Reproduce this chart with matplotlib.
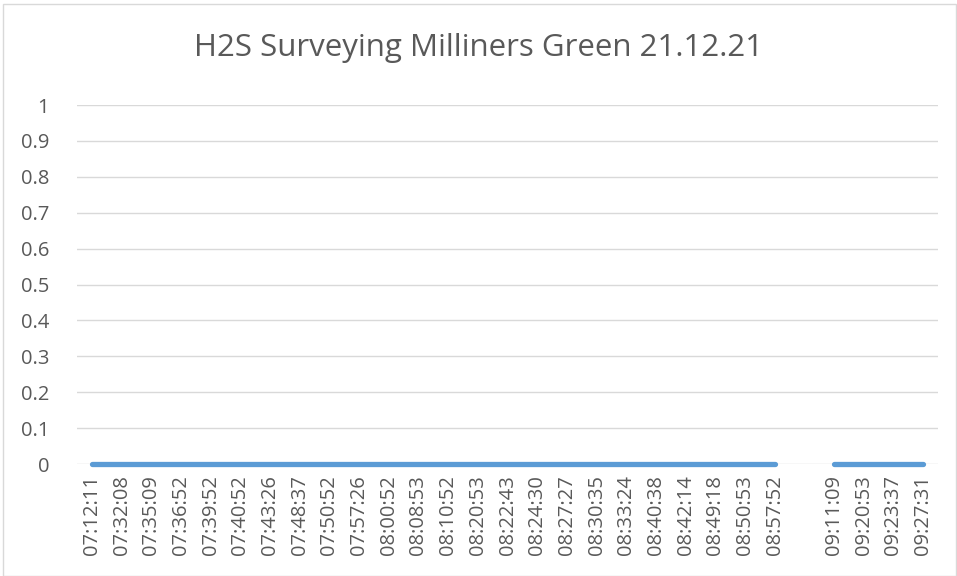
import numpy as np
import matplotlib.pyplot as plt
from matplotlib.patches import Rectangle

times = ["07:12:11", "07:32:08", "07:35:09", "07:36:52", "07:39:52", "07:40:52",
         "07:43:26", "07:48:37", "07:50:52", "07:57:26", "08:00:52", "08:08:53",
         "08:10:52", "08:20:53", "08:22:43", "08:24:30", "08:27:27", "08:30:35",
         "08:33:24", "08:40:38", "08:42:14", "08:49:18", "08:50:53", "08:57:52",
         "", "09:11:09", "09:20:53", "09:23:37", "09:27:31"]
h2s = [0, 0, 0, 0, 0, 0, 0, 0, 0, 0, 0, 0, 0, 0, 0, 0, 0, 0, 0, 0, 0, 0, 0, 0,
       np.nan, 0, 0, 0, 0]

plt.rcParams['font.family'] = ['Open Sans', 'DejaVu Sans']

fig = plt.figure(figsize=(9.57, 5.76), dpi=100)
fig.patches.append(Rectangle((3/957, 0), 1 - 4/957, 1 - 4/576, transform=fig.transFigure,
                             fill=False, edgecolor="#D9D9D9", linewidth=1))
ax = fig.add_axes([77/957, 112/576, 861/957, 359/576])

x = np.arange(len(times))
ax.plot(x, h2s, color="#5B9BD5", linewidth=3.8, solid_capstyle="round",
        zorder=3, clip_on=False)

ax.set_xlim(-0.5, len(times) - 0.5)
ax.set_ylim(0, 1)
ax.set_yticks(np.arange(0, 1.01, 0.1))
ax.set_yticklabels(["0", "0.1", "0.2", "0.3", "0.4", "0.5", "0.6", "0.7", "0.8", "0.9", "1"])
ax.set_xticks(x)
ax.set_xticklabels(times, rotation=90)
ax.tick_params(axis="both", length=0, labelsize=14.5, colors="#595959")
ax.tick_params(axis="x", pad=8)
ax.tick_params(axis="y", pad=20)
ax.grid(axis="y", color="#D9D9D9", linewidth=1)
ax.set_axisbelow(True)
for s in ax.spines.values():
    s.set_visible(False)

fig.suptitle("H2S Surveying Milliners Green 21.12.21", y=1 - 48/576, va="center",
             fontsize=22.5, color="#595959")

fig.savefig("out.png", dpi=100)
